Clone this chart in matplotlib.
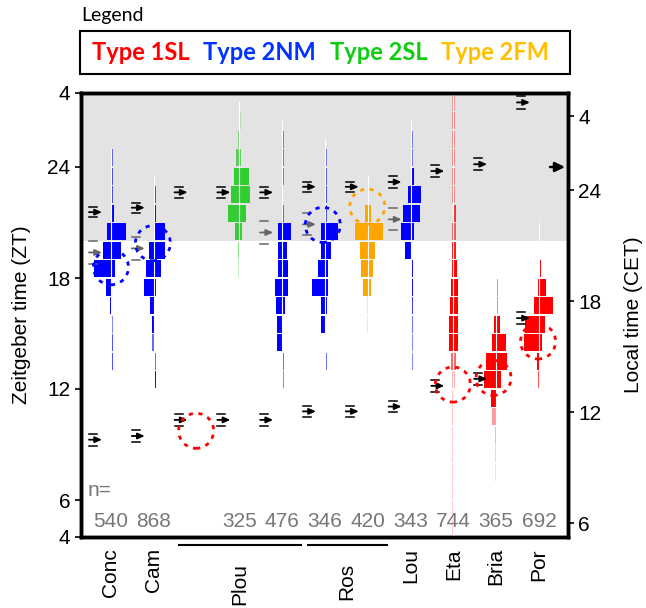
import matplotlib
matplotlib.use('Agg')
import matplotlib.pyplot as plt
from matplotlib.patches import Ellipse, Rectangle
from matplotlib.lines import Line2D
import matplotlib.transforms as mtransforms

plt.rcParams['font.family'] = ['Liberation Sans', 'DejaVu Sans']

RED = '#ff0000'
BLUE = '#0000ff'
GREEN = '#33cc33'
ORANGE = '#ffa500'

# histogram bins: (bin start ZT, left width, right width, alpha)
conc_bins = [(24, 0, 2, 0.6), (23, 0, 2, 0.7), (22, 0, 2, 0.7), (21, 0, 3.5, 1),
             (20, 4, 15, 1), (19, 8, 10, 1), (18, 17, 4, 1), (17, 5, 1, 1),
             (16, 1, 1, 1), (15, 0, 2, 0.5), (14, 0, 2, 0.7), (13, 0, 2, 0.7)]
cam_bins = [(22, 0, 2, 0.7), (21, 0, 2.5, 1), (20, 0, 11, 1), (19, 5, 11, 1),
            (18, 8, 7, 1), (17, 10, 2, 1), (16, 4, 0.5, 1), (15, 2, 0, 1),
            (14, 2, 0, 0.6), (13, 0, 2, 0.6), (12, 0, 2, 1)]
plou_sl_bins = [(26, 0, 2, 0.3), (25, 1.5, 1, 0.6), (24, 3, 2, 0.8), (23, 5, 10, 1),
                (22, 8.3, 11, 1), (21, 11, 6.7, 1), (20, 4.7, 3, 1), (19, 1.7, 1, 0.6),
                (18, 1, 1, 0.3)]
plou_nm_bins = [(25, 0, 2, 0.5), (24, 0, 2, 0.5), (23, 0, 2, 0.5), (21, 0, 2, 0.6),
                (20, 4.3, 9, 1), (19, 4.3, 5.3, 1), (18, 3.7, 6.3, 1), (17, 7, 5.7, 1),
                (16, 6, 3, 1), (15, 5, 1.3, 1), (14, 4.7, 0.5, 1), (13, 0, 2, 0.6),
                (12, 0, 2, 0.5)]
ros_nm_bins = [(24, 0, 2, 0.5), (23, 0, 2, 0.6), (22, 0, 2, 0.7), (21, 0, 2, 0.7),
               (20, 4, 13.3, 1), (19, 4, 6, 1), (18, 6.7, 3.3, 1), (17, 13.3, 3.3, 1),
               (16, 4.3, 2.3, 1), (15, 3.7, 1, 1), (13, 0, 2, 0.6)]
ros_fm_bins = [(21, 2.3, 3.7, 1), (20, 13, 15, 1), (19, 7.3, 7, 1), (18, 6.7, 5, 1),
               (17, 4.7, 3.7, 1), (16, 1, 1, 0.3), (15, 1, 1, 0.3)]
lou_bins = [(25, 0, 2, 0.5), (24, 0, 2, 0.5), (23, 0, 3, 1), (22, 3, 10, 1),
            (21, 8, 9.3, 1), (20, 9.7, 3.7, 1), (19, 5.7, 1.7, 1), (18, 0, 2, 1),
            (17, 0, 2, 1), (16, 0, 2, 0.8), (15, 0, 2, 0.6), (14, 0, 2, 0.5),
            (13, 0, 2, 0.5)]
eta_bins = [(27, 1.5, 1.5, 0.35), (26, 1.7, 2, 0.4), (25, 1.7, 1.7, 0.4),
            (24, 1.7, 1.7, 0.4), (23, 1.7, 1.7, 0.4), (22, 1.7, 1.7, 0.4),
            (21, 0, 2.7, 0.8), (20, 1.7, 2.3, 0.6), (19, 1.3, 3, 0.9), (18, 1.7, 3.7, 1),
            (17, 2.3, 4.3, 1), (16, 3, 5, 1), (15, 4, 5, 1), (14, 4, 4.3, 1),
            (13, 2.3, 3, 0.6), (12, 1, 1.5, 0.3), (11, 1, 1, 0.25), (10, 1, 1, 0.25),
            (9, 1, 1, 0.2), (8, 1, 1, 0.2), (7, 1, 1, 0.2), (6, 1, 1, 0.2),
            (5, 1, 1, 0.2), (4, 1, 1, 0.2)]
bria_bins = [(17, 0, 1.5, 0.5), (16, 0, 1.5, 0.5), (15, 2, 4, 1), (14, 4.3, 10, 1),
             (13, 10.3, 10.7, 1), (12, 11.7, 5, 1), (11, 5.3, 0.5, 1), (10, 3.7, 0.5, 0.4),
             (9, 1.5, 0.5, 0.3), (8, 1, 0.5, 0.2), (7, 1, 0.5, 0.15)]
por_bins = [(20, 0, 1.5, 0.7), (19, 0, 1.5, 0.9), (18, 0, 2, 1), (17, 0.7, 7, 1),
            (16, 5, 14.3, 1), (15, 14, 6, 1), (14, 14.7, 2.7, 1), (13, 1.5, 0, 1),
            (12, 1, 0.5, 0.7)]

# (slot, histogram, colour, white centre line from, to)
columns = [
    (0, conc_bins, BLUE, 13, 25),
    (1, cam_bins, BLUE, 12, 23.5),
    (3, plou_sl_bins, GREEN, 18, 27.5),
    (4, plou_nm_bins, BLUE, 12, 26.5),
    (5, ros_nm_bins, BLUE, 13, 25.5),
    (6, ros_fm_bins, ORANGE, 15, 23.5),
    (7, lou_bins, BLUE, 13, 26.5),
    (8, eta_bins, RED, 4, 28),
    (9, bria_bins, RED, 7, 18),
    (10, por_bins, RED, 12, 21),
]

# arrows: (slot, ZT, spread)
black_arrows = [(0, 21.56, 0.28), (0, 9.26, 0.32), (1, 21.8, 0.28), (1, 9.46, 0.32),
                (2, 22.63, 0.28), (2, 10.33, 0.32), (3, 22.63, 0.28), (3, 10.33, 0.32),
                (4, 22.63, 0.28), (4, 10.33, 0.32), (5, 22.93, 0.28), (5, 10.79, 0.3),
                (6, 22.93, 0.28), (6, 10.79, 0.3), (7, 23.19, 0.3), (7, 11.05, 0.3),
                (8, 23.78, 0.33), (8, 12.17, 0.32), (9, 24.15, 0.33), (9, 12.55, 0.32),
                (10, 27.49, 0.36), (10, 15.83, 0.32)]
grey_arrows = [(0, 19.38, 0.6), (1, 19.6, 0.62), (4, 20.46, 0.6), (5, 20.9, 0.6),
               (7, 21.17, 0.6)]

# dashed circles: (slot, ZT, colour)
circles = [(0, 18.58, BLUE), (0.98, 19.88, BLUE), (1.99, 9.74, RED), (4.95, 20.87, BLUE),
           (5.99, 21.86, ORANGE), (7.99, 12.24, RED), (8.94, 12.6, RED), (9.98, 14.57, RED)]

n_slots = [0, 1, 3, 4, 5, 6, 7, 8, 9, 10]
n_values = [540, 868, 325, 476, 346, 420, 343, 744, 365, 692]

site_labels = ['Conc', 'Cam', 'Plou', 'Ros', 'Lou', 'Eta', 'Bria', 'Por']
site_pos = [0, 1, 3, 5.5, 7, 8, 9, 10]
site_groups = [(1.6, 4.45), (4.6, 6.45)]

zt_ticks = [4, 6, 12, 18, 24, 28]
zt_labels = ['4', '6', '12', '18', '24', '4']
cet_ticks = [4.75, 10.75, 16.75, 22.75, 26.75]
cet_labels = ['6', '12', '18', '24', '4']

legend_names = ['Type 1SL', 'Type 2NM', 'Type 2SL', 'Type 2FM']
legend_colors = ['#ff0000', '#0033ff', '#11cc11', '#ffc000']
legend_x = [92, 203, 330, 441]

fig = plt.figure(figsize=(6.46, 6.08), dpi=100)
ax = fig.add_axes([81 / 646, 1 - 537 / 608, 487 / 646, 444 / 608])
ax.set_xlim(-0.70, 10.68)
ax.set_ylim(4, 28)
PX = 1 / 42.8  # one pixel in slot units

ax.axhspan(20, 28, color='#e3e3e3', zorder=0, lw=0)

for slot, bins, col, y0, y1 in columns:
    for zt, lw_, rw, a in bins:
        if lw_ > 0:
            ax.barh(zt + 0.5, lw_ * PX, left=slot - lw_ * PX, height=0.93,
                    color=col, alpha=a, lw=0, zorder=2)
        if rw > 0:
            ax.barh(zt + 0.5, rw * PX, left=slot, height=0.93,
                    color=col, alpha=a, lw=0, zorder=2)
    ax.plot([slot, slot], [y0, y1], color='white', lw=0.8, zorder=3)


def draw_arrow(slot, zt, spread, color):
    x0 = slot - 22 * PX
    x1 = slot - 9 * PX
    ax.annotate('', xy=(x1, zt), xytext=(x0, zt),
                arrowprops=dict(arrowstyle='-|>,head_length=0.45,head_width=0.2',
                                color=color, lw=1.3, mutation_scale=9,
                                shrinkA=0, shrinkB=0), zorder=4)
    for s in (-spread, spread):
        ax.plot([x0, slot - 14 * PX], [zt + s, zt + s], color=color, lw=1.1, zorder=4)


for slot, zt, sp in black_arrows:
    draw_arrow(slot, zt, sp, 'black')
for slot, zt, sp in grey_arrows:
    draw_arrow(slot, zt, sp, '#666666')

ax.annotate('', xy=(10.61, 24), xytext=(10.26, 24),
            arrowprops=dict(arrowstyle='-|>,head_length=0.45,head_width=0.22',
                            color='black', lw=1.8, mutation_scale=13,
                            shrinkA=0, shrinkB=0), zorder=4)

for cx, cy, col in circles:
    ax.add_patch(Ellipse((cx, cy), 35 * PX, 35 / 18.45, fill=False, edgecolor=col,
                         lw=2, linestyle=(0, (1.5, 2)), zorder=5))

ax.text(-0.55, 6.5, 'n=', color='#777777', fontsize=15, va='center', ha='left')
for s, n in zip(n_slots, n_values):
    ax.text(s, 4.82, str(n), color='#777777', fontsize=15, va='center', ha='center')

ax.set_xticks([])
ax.set_yticks(zt_ticks)
ax.set_yticklabels(zt_labels, fontsize=15)
ax.set_ylabel('Zeitgeber time (ZT)', fontsize=15, labelpad=12)
ax.tick_params(axis='y', length=4, width=1.2)
for sp in ax.spines.values():
    sp.set_linewidth(2.5)

ax2 = ax.twinx()
ax2.set_ylim(4, 28)
ax2.set_yticks(cet_ticks)
ax2.set_yticklabels(cet_labels, fontsize=15)
ax2.set_ylabel('Local time (CET)', fontsize=15, labelpad=16)
ax2.tick_params(axis='y', length=4, width=1.2)
for sp in ax2.spines.values():
    sp.set_linewidth(2.5)

trans = mtransforms.blended_transform_factory(ax.transData, ax.transAxes)
for lab, pos in zip(site_labels, site_pos):
    grouped = lab in ('Plou', 'Ros')
    ax.text(pos, -0.058 if grouped else -0.025, lab, transform=trans, rotation=90,
            ha='center', va='top', fontsize=15)
for g0, g1 in site_groups:
    ax.add_line(Line2D([g0, g1], [-0.018, -0.018], transform=trans, color='black',
                       lw=1.5, clip_on=False))

# legend box
fig.text(81 / 646, 1 - 15 / 608, 'Legend', fontsize=14, family='Lato', va='center')
fig.patches.append(Rectangle((80 / 646, 1 - 74 / 608), 490 / 646, 43 / 608,
                             transform=fig.transFigure, fill=False, edgecolor='black',
                             lw=1.5))
for name, c, lx in zip(legend_names, legend_colors, legend_x):
    fig.text(lx / 646, 1 - 52 / 608, name, color=c, fontsize=17, fontweight='bold',
             family='Lato', va='center')

plt.savefig('out.png', dpi=100)
